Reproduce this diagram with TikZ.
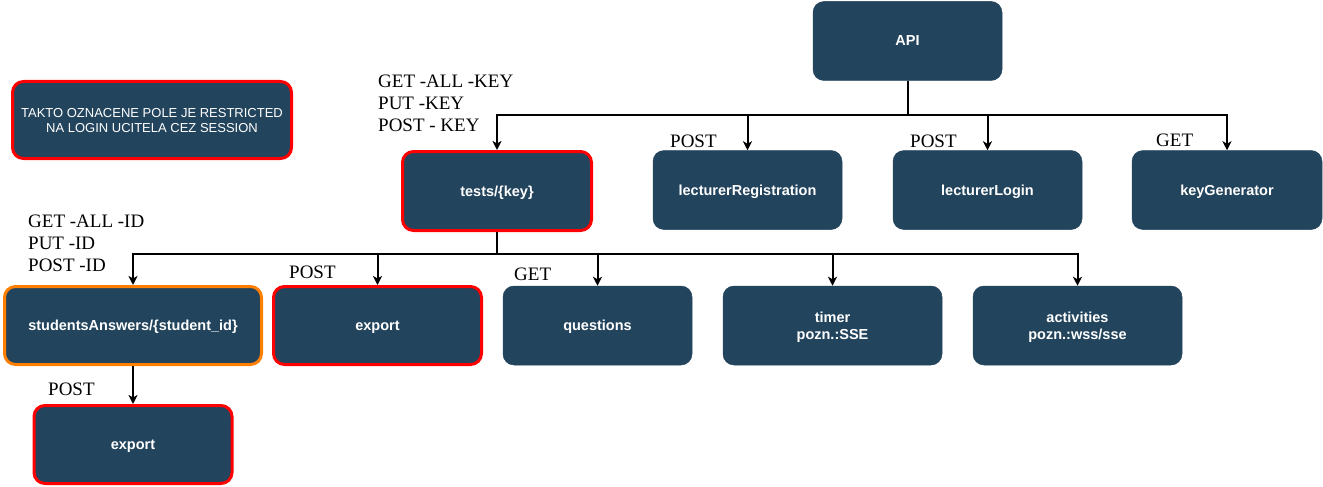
\documentclass[tikz,border=0pt]{standalone}
\usepackage{fontspec}
\setmainfont{Liberation Serif}
\newfontfamily\boxfont{Liberation Sans}
\usetikzlibrary{arrows.meta}
\definecolor{boxblue}{HTML}{23445D}
\definecolor{restrict}{HTML}{FF0000}
\definecolor{orangeb}{HTML}{FF8000}
\tikzset{
  box/.style={rectangle, rounded corners=11pt, fill=boxblue, draw=boxblue, line width=0.5pt,
    text=white, font=\boxfont\bfseries\fontsize{14.5}{17}\selectfont, align=center,
    minimum height=79pt, inner sep=2pt, text depth=0pt},
  red/.style={draw=restrict, line width=3pt},
  orng/.style={draw=orangeb, line width=3pt},
  lbl/.style={font=\fontsize{19}{22}\selectfont, inner sep=0pt, text=black},
  arr/.style={draw=black, line width=2pt, -{Stealth[length=9pt,width=9pt,inset=2.5pt]}},
}
\begin{document}
\begin{tikzpicture}[x=1pt,y=-1pt]
\useasboundingbox (0,0) rectangle (1323,487);
% nodes
\node[box, minimum width=189pt] (api) at (907.5,41) {API};
\node[box, red, minimum width=189pt, minimum height=79pt] (tests) at (497,191) {tests/\{key\}};
\node[box, minimum width=189pt] (lreg) at (747.5,190) {lecturerRegistration};
\node[box, minimum width=189pt] (llog) at (987.5,190) {lecturerLogin};
\node[box, minimum width=190pt] (kgen) at (1227,190) {keyGenerator};
\node[box, orng, minimum width=257pt, minimum height=78pt] (sa) at (133,325.5) {studentsAnswers/\{student\_id\}};
\node[box, red, minimum width=208pt, minimum height=78pt] (exp) at (377.5,325.5) {export};
\node[box, minimum width=189pt] (quest) at (597.5,325.5) {questions};
\node[box, minimum width=219pt] (timer) at (832.5,325.5) {timer\\pozn.:SSE};
\node[box, minimum width=209pt] (act) at (1077.5,325.5) {activities\\pozn.:wss/sse};
\node[box, red, minimum width=198pt, minimum height=78pt] (exp2) at (133,444.5) {export};
\node[box, red, minimum width=279pt, minimum height=77pt,
  font=\boxfont\fontsize{13}{15}\selectfont] (legend) at (152,120) {TAKTO OZNACENE POLE JE RESTRICTED\\NA LOGIN UCITELA CEZ SESSION};
% labels
\node[lbl, anchor=north west, align=left] (ltests) at (378,75) {GET -ALL -KEY\\PUT -KEY\\POST - KEY};
\node[lbl, anchor=west] (lreglbl) at (670,141) {POST};
\node[lbl, anchor=west] (lloglbl) at (910,141) {POST};
\node[lbl, anchor=west] (kgenlbl) at (1156,140) {GET};
\node[lbl, anchor=north west, align=left] (lsa) at (28,215) {GET -ALL -ID\\PUT -ID\\POST -ID};
\node[lbl, anchor=west] (explbl) at (289,272) {POST};
\node[lbl, anchor=west] (questlbl) at (514,274) {GET};
\node[lbl, anchor=west] (exp2lbl) at (48,389.5) {POST};
% buses
\coordinate (b1) at (0,115);
\coordinate (b2) at (0,254);
% connectors
\foreach \c in {tests,lreg,llog,kgen}
  \draw[arr] (api.south) |- (b1 -| \c.north) -- (\c.north);
\foreach \c in {sa,exp,quest,timer,act}
  \draw[arr] (tests.south) |- (b2 -| \c.north) -- (\c.north);
\draw[arr] (sa.south) -- (exp2.north);
\end{tikzpicture}
\end{document}
